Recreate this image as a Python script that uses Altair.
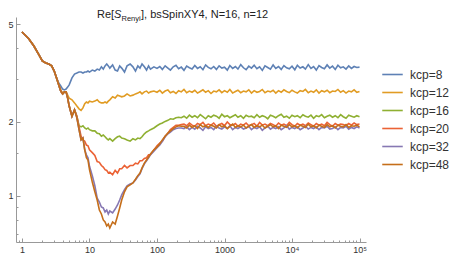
import altair as alt
import pandas as pd

# ---------------- data ----------------
NAMES = ["kcp=8", "kcp=12", "kcp=16", "kcp=20", "kcp=32", "kcp=48"]
COLORS = ["#5E81B5", "#E19C24", "#8FB032", "#EB6235", "#8778B3", "#C56E1A"]

T_EARLY = [1, 1.25, 1.5, 1.75, 2, 2.25, 2.5, 2.75, 3, 3.25]
T_A = [3.5, 3.75, 4, 4.25, 4.5, 4.75, 5, 5.5, 6, 6.5, 7, 7.5, 8, 8.5, 9, 9.5]
T_MID = [10, 11, 12, 13, 14, 15, 16, 17, 18, 19,
         20, 22, 24, 26, 28, 30, 33, 36, 40, 44,
         48, 52, 56, 60, 65, 70, 75, 80, 90]
T_LATE = [100, 110, 120, 132, 145, 158, 174, 191, 209, 229,
          251, 275, 302, 331, 363, 398, 437, 479, 525, 575,
          631, 692, 759, 832, 912, 1000, 1100, 1200, 1320, 1450,
          1580, 1740, 1910, 2090, 2290, 2510, 2750, 3020, 3310, 3630,
          3980, 4370, 4790, 5250, 5750, 6310, 6920, 7590, 8320, 9120,
          10000, 11000, 12000, 13200, 14500, 15800, 17400, 19100, 20900, 22900,
          25100, 27500, 30200, 33100, 36300, 39800, 43700, 47900, 52500, 57500,
          63100, 69200, 75900, 83200, 91200, 100000]
TIMES = T_EARLY + T_A + T_MID + T_LATE

S_EARLY = [4.64, 4.37, 4.07, 3.78, 3.54, 3.47, 3.44, 3.38, 3.22, 3.02]

kcp8 = S_EARLY + [
    2.88, 2.80, 2.72, 2.70, 2.72, 2.77, 2.83, 3.02, 3.13, 3.16, 3.19, 3.19, 3.16, 3.19, 3.19, 3.22,
    3.19, 3.25, 3.22, 3.28, 3.25, 3.35, 3.28, 3.38, 3.44, 3.38,
    3.31, 3.41, 3.25, 3.22, 3.38, 3.31, 3.19, 3.38, 3.44, 3.35,
    3.22, 3.38, 3.31, 3.44, 3.35, 3.25, 3.38, 3.28, 3.35,
    3.30, 3.36, 3.27, 3.38, 3.31, 3.25, 3.35, 3.40, 3.29, 3.34,
    3.24, 3.37, 3.32, 3.28, 3.39, 3.30, 3.35, 3.26, 3.41, 3.33,
    3.29, 3.36, 3.27, 3.38, 3.31, 3.34, 3.25, 3.39, 3.30, 3.36,
    3.28, 3.42, 3.32, 3.26, 3.37, 3.31, 3.40, 3.29, 3.35, 3.24,
    3.38, 3.33, 3.28, 3.41, 3.30, 3.36, 3.27, 3.39, 3.32, 3.29,
    3.37, 3.26, 3.40, 3.31, 3.35, 3.28, 3.42, 3.30, 3.36, 3.25,
    3.39, 3.33, 3.29, 3.41, 3.31, 3.37, 3.27, 3.40, 3.32, 3.35,
    3.28, 3.38, 3.30, 3.36, 3.33, 3.34]

kcp12 = S_EARLY + [
    2.83, 2.70, 2.62, 2.65, 2.65, 2.57, 2.50, 2.46, 2.39, 2.32, 2.26, 2.23, 2.28, 2.37, 2.41, 2.39,
    2.43, 2.41, 2.43, 2.46, 2.41, 2.39, 2.39, 2.41, 2.39, 2.43,
    2.46, 2.53, 2.50, 2.57, 2.55, 2.53, 2.55, 2.60, 2.55, 2.57,
    2.60, 2.62, 2.65, 2.60, 2.65, 2.67, 2.62, 2.65, 2.67,
    2.64, 2.69, 2.62, 2.67, 2.70, 2.63, 2.66, 2.61, 2.68, 2.65,
    2.71, 2.63, 2.67, 2.64, 2.69, 2.62, 2.66, 2.70, 2.64, 2.68,
    2.61, 2.67, 2.65, 2.70, 2.63, 2.68, 2.64, 2.71, 2.62, 2.66,
    2.69, 2.63, 2.67, 2.65, 2.70, 2.62, 2.68, 2.64, 2.66, 2.71,
    2.63, 2.67, 2.65, 2.69, 2.62, 2.68, 2.64, 2.70, 2.66, 2.63,
    2.69, 2.65, 2.62, 2.68, 2.66, 2.71, 2.63, 2.67, 2.64, 2.70,
    2.62, 2.68, 2.65, 2.69, 2.63, 2.67, 2.66, 2.71, 2.64, 2.68,
    2.62, 2.67, 2.65, 2.70, 2.64, 2.66]

kcp16 = S_EARLY + [
    2.83, 2.67, 2.60, 2.65, 2.65, 2.50, 2.32, 2.11, 2.24, 2.11, 1.93, 1.91, 1.93, 1.89, 1.87, 1.89,
    1.86, 1.84, 1.84, 1.80, 1.79, 1.75, 1.77, 1.74, 1.71, 1.69,
    1.71, 1.67, 1.71, 1.74, 1.75, 1.72, 1.71, 1.69, 1.67, 1.71,
    1.69, 1.72, 1.71, 1.74, 1.79, 1.82, 1.84, 1.86, 1.89,
    1.93, 1.96, 1.98, 2.01, 2.03, 2.06, 2.05, 2.08, 2.09, 2.08,
    2.11, 2.07, 2.13, 2.09, 2.12, 2.08, 2.14, 2.10, 2.06, 2.12,
    2.09, 2.13, 2.11, 2.07, 2.15, 2.10, 2.12, 2.08, 2.11, 2.14,
    2.09, 2.12, 2.07, 2.13, 2.10, 2.11, 2.08, 2.14, 2.09, 2.12,
    2.10, 2.06, 2.13, 2.11, 2.08, 2.12, 2.15, 2.09, 2.11, 2.07,
    2.13, 2.10, 2.12, 2.08, 2.14, 2.11, 2.09, 2.13, 2.07, 2.12,
    2.10, 2.14, 2.08, 2.11, 2.13, 2.09, 2.12, 2.08, 2.14, 2.10,
    2.07, 2.13, 2.11, 2.09, 2.12, 2.10]

kcp20 = S_EARLY + [
    2.83, 2.67, 2.60, 2.65, 2.65, 2.50, 2.32, 2.11, 2.24, 2.11, 1.91, 1.75, 1.69, 1.67, 1.61, 1.60,
    1.54, 1.50, 1.46, 1.38, 1.37, 1.33, 1.31, 1.28, 1.27, 1.24,
    1.25, 1.22, 1.27, 1.24, 1.29, 1.29, 1.33, 1.30, 1.33, 1.33,
    1.36, 1.35, 1.39, 1.39, 1.42, 1.43, 1.47, 1.47, 1.54,
    1.60, 1.64, 1.67, 1.75, 1.80, 1.86, 1.90, 1.94, 1.94, 1.95,
    1.96, 1.93, 1.98, 1.94, 1.92, 1.97, 1.95, 1.99, 1.93, 1.96,
    1.94, 1.98, 1.92, 1.95, 1.97, 1.93, 2.00, 1.95, 1.94, 1.97,
    1.92, 1.96, 1.94, 1.98, 1.93, 1.95, 1.97, 1.92, 1.99, 1.94,
    1.96, 1.93, 1.97, 1.95, 1.92, 1.98, 1.94, 1.96, 1.93, 1.99,
    1.95, 1.92, 1.97, 1.94, 1.96, 1.93, 1.98, 1.95, 1.92, 1.97,
    1.94, 1.96, 1.93, 1.99, 1.95, 1.92, 1.97, 1.94, 1.96, 1.95,
    1.93, 1.97, 1.94, 1.98, 1.95, 1.96]

kcp32 = S_EARLY + [
    2.83, 2.67, 2.60, 2.65, 2.65, 2.50, 2.32, 2.11, 2.24, 2.08, 1.86, 1.69, 1.72, 1.54, 1.47, 1.43,
    1.32, 1.21, 1.10, 0.981, 0.945, 0.902, 0.894, 0.861, 0.877, 0.845,
    0.869, 0.853, 0.885, 0.919, 0.963, 1.01, 1.06, 1.10, 1.12, 1.13,
    1.16, 1.20, 1.23, 1.29, 1.35, 1.39, 1.43, 1.47, 1.52,
    1.57, 1.61, 1.67, 1.74, 1.79, 1.82, 1.86, 1.88, 1.89, 1.89,
    1.88, 1.91, 1.86, 1.90, 1.87, 1.92, 1.89, 1.85, 1.91, 1.88,
    1.90, 1.86, 1.92, 1.89, 1.87, 1.91, 1.88, 1.93, 1.86, 1.90,
    1.88, 1.91, 1.87, 1.89, 1.92, 1.86, 1.90, 1.88, 1.91, 1.85,
    1.89, 1.92, 1.87, 1.90, 1.88, 1.91, 1.86, 1.89, 1.93, 1.87,
    1.90, 1.88, 1.91, 1.86, 1.89, 1.92, 1.87, 1.90, 1.88, 1.91,
    1.86, 1.90, 1.89, 1.92, 1.87, 1.88, 1.91, 1.86, 1.90, 1.89,
    1.92, 1.87, 1.90, 1.88, 1.91, 1.89]

kcp48 = S_EARLY + [
    2.83, 2.67, 2.60, 2.65, 2.65, 2.50, 2.32, 2.11, 2.24, 2.08, 1.86, 1.69, 1.72, 1.54, 1.43, 1.40,
    1.28, 1.14, 1.04, 0.963, 0.877, 0.845, 0.799, 0.784, 0.755, 0.769,
    0.741, 0.784, 0.769, 0.829, 0.894, 0.963, 1.04, 1.09, 1.11, 1.13,
    1.17, 1.21, 1.24, 1.30, 1.36, 1.40, 1.44, 1.48, 1.54,
    1.58, 1.63, 1.69, 1.75, 1.80, 1.84, 1.88, 1.91, 1.93, 1.92,
    1.92, 1.89, 1.94, 1.90, 1.93, 1.88, 1.95, 1.91, 1.93, 1.90,
    1.94, 1.92, 1.89, 1.95, 1.91, 1.93, 1.88, 1.92, 1.96, 1.90,
    1.93, 1.91, 1.94, 1.89, 1.92, 1.95, 1.90, 1.93, 1.91, 1.94,
    1.89, 1.92, 1.95, 1.91, 1.93, 1.88, 1.94, 1.92, 1.90, 1.95,
    1.91, 1.93, 1.89, 1.94, 1.92, 1.90, 1.96, 1.91, 1.93, 1.89,
    1.94, 1.92, 1.90, 1.95, 1.91, 1.93, 1.89, 1.94, 1.92, 1.91,
    1.95, 1.90, 1.93, 1.92, 1.94, 1.91]

SERIES = [kcp8, kcp12, kcp16, kcp20, kcp32, kcp48]

X_MAJOR = [1, 10, 100, 1000, 10000, 100000]
X_MINOR = [0.9] + [m * 10 ** e for e in range(5) for m in range(2, 10)]
Y_MAJOR = [1, 2, 5]
Y_MINOR = [0.7, 0.8, 0.9, 1.5, 3, 4]

XDOM = [0.815, 124800]
YDOM = [0.65, 5.34]

# ---------------- build ----------------
rows = []
for name, vals in zip(NAMES, SERIES):
    for t, s in zip(TIMES, vals):
        rows.append({"t": t, "S": s, "series": name})
df = pd.DataFrame(rows)

FONT = "Liberation Sans"
AX = "#999999"
xs = alt.Scale(type="log", domain=XDOM, nice=False)
ys = alt.Scale(type="log", domain=YDOM, nice=False)

x_label_expr = ("datum.value == 10000 ? '10\u2074' : datum.value == 100000 ? '10\u2075' : "
                "format(datum.value, 'd')")

lines = alt.Chart(df).mark_line(strokeWidth=1.6).encode(
    x=alt.X("t:Q", scale=xs, axis=alt.Axis(
        orient="bottom", values=X_MAJOR, labelExpr=x_label_expr, ticks=False, grid=False,
        domainColor=AX, domainWidth=1, labelFont=FONT, labelFontSize=9, labelColor="#333333",
        labelPadding=3, title=None, labelFlush=False, labelOverlap=False)),
    y=alt.Y("S:Q", scale=ys, axis=alt.Axis(
        orient="left", values=Y_MAJOR, format="d", ticks=False, grid=False,
        domainColor=AX, domainWidth=1, labelFont=FONT, labelFontSize=9, labelColor="#333333",
        labelPadding=3, title=None, labelFlush=False, labelOverlap=False)),
    color=alt.Color("series:N", sort=NAMES,
                    scale=alt.Scale(domain=NAMES, range=COLORS),
                    legend=alt.Legend(title=None, orient="none", legendX=365, legendY=46,
                                      symbolType="stroke", symbolSize=420, symbolStrokeWidth=1.6,
                                      labelFont=FONT, labelFontSize=12, labelColor="#333333",
                                      labelOffset=6, rowPadding=0, padding=0)),
)

dummy = pd.DataFrame({"t": [1.0], "S": [1.0]})


def tick_layer(xv, yv, size):
    return alt.Chart(dummy).mark_point(opacity=0).encode(
        x=alt.X("t:Q", scale=xs, axis=alt.Axis(
            orient="bottom", values=xv, labels=False, domain=False, grid=False, ticks=True,
            tickSize=size, offset=-size, tickColor=AX, tickWidth=1, title=None)),
        y=alt.Y("S:Q", scale=ys, axis=alt.Axis(
            orient="left", values=yv, labels=False, domain=False, grid=False, ticks=True,
            tickSize=size, offset=-size, tickColor=AX, tickWidth=1, title=None)),
    )


major = tick_layer(X_MAJOR, Y_MAJOR, 4)
minor = tick_layer(X_MINOR, Y_MINOR, 2)

one = pd.DataFrame({"a": [0]})


def txt(s, x, y, size=11, style="normal"):
    return alt.Chart(one).mark_text(text=s, align="left", baseline="alphabetic", font=FONT,
                                    fontSize=size, fontStyle=style, color="#222222").encode(
        x=alt.value(x), y=alt.value(y))


title = (txt("Re[", 81, 1) + txt("S", 98, 1, style="italic") +
         txt("Renyi", 105.5, 3.5, size=7.5) + txt("], bsSpinXY4, N=16, n=12", 125, 1))

chart = alt.layer(lines, major, minor, title).resolve_axis(
    x="independent", y="independent"
).properties(
    width=350, height=225,
    padding={"left": 8, "top": 9, "right": 85, "bottom": 16},
    autosize=alt.AutoSizeParams(type="none"),
).configure_view(stroke=None)

chart.save("out.html", embed_options={"renderer": "svg", "actions": False})
